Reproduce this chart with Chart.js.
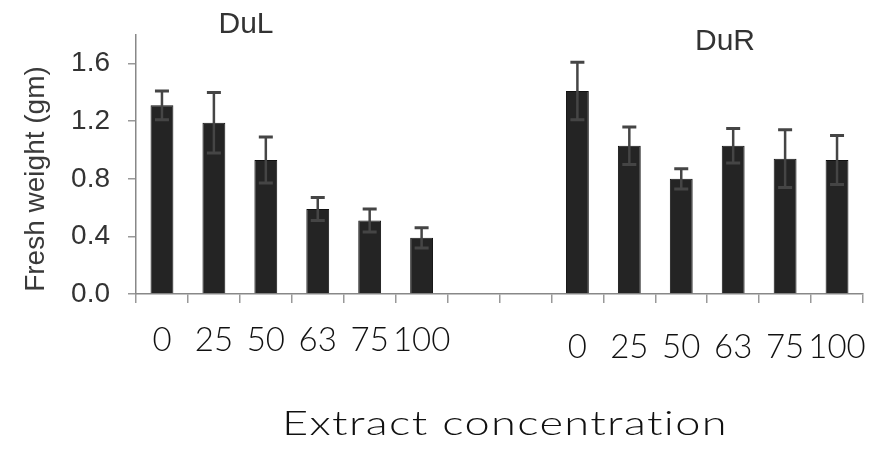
<!DOCTYPE html>
<html>
<head>
<meta charset="utf-8">
<script src="https://cdn.jsdelivr.net/npm/chart.js@4"></script>
<style>
    html, body { margin: 0; padding: 0; background: #fff; }
    #wrap { width: 871px; height: 449px; }
</style>
</head>
<body>
<div id="wrap"><canvas id="weightChart" width="871" height="449"></canvas></div>
<script>
// concentrations of extract (x tick labels), repeated for both groups
const concentrations = ['0', '25', '50', '63', '75', '100'];
const groupNames = ['DuL', 'DuR'];

// fresh weight (gm)
const dulMeans = [1.31, 1.19, 0.93, 0.59, 0.51, 0.39];
const dulErrors = [0.10, 0.21, 0.16, 0.08, 0.08, 0.07];
const durMeans = [1.41, 1.03, 0.80, 1.03, 0.94, 0.93];
const durErrors = [0.20, 0.13, 0.07, 0.12, 0.20, 0.17];

const yTicks = [0.0, 0.4, 0.8, 1.2, 1.6];

// two empty slots sit between the groups
const gap = ['', ''];
const labels = [...concentrations, ...gap, ...concentrations];
const means = [...dulMeans, null, null, ...durMeans];
const errors = [...dulErrors, null, null, ...durErrors];

const errorBars = {
    id: 'errorBars',
    afterDatasetsDraw(chart) {
        const ctx = chart.ctx;
        const y = chart.scales.y;
        const meta = chart.getDatasetMeta(0);
        ctx.save();
        ctx.strokeStyle = '#454545';
        meta.data.forEach((bar, i) => {
            if (means[i] == null) return;
            const top = y.getPixelForValue(means[i] + errors[i]);
            const bottom = y.getPixelForValue(means[i] - errors[i]);
            ctx.lineWidth = 2.5;
            ctx.beginPath();
            ctx.moveTo(bar.x, top);
            ctx.lineTo(bar.x, bottom);
            ctx.stroke();
            ctx.lineWidth = 3;
            ctx.beginPath();
            ctx.moveTo(bar.x - 7, top);
            ctx.lineTo(bar.x + 7, top);
            ctx.moveTo(bar.x - 7, bottom);
            ctx.lineTo(bar.x + 7, bottom);
            ctx.stroke();
        });
        ctx.restore();
    }
};

// stretch text to a given width, the original uses a wide font
const drawWide = (ctx, text, x, y, width) => {
    const w = ctx.measureText(text).width;
    ctx.save();
    ctx.translate(x, y);
    ctx.scale(width / w, 1);
    ctx.fillText(text, 0, 0);
    ctx.restore();
};

const textLayer = {
    id: 'textLayer',
    afterDraw(chart) {
        const ctx = chart.ctx;
        const x = chart.scales.x;
        ctx.save();
        ctx.textAlign = 'center';
        ctx.textBaseline = 'middle';

        // y title
        ctx.fillStyle = '#3a3a3a';
        ctx.font = '28px "Liberation Sans", Arial, sans-serif';
        ctx.save();
        ctx.translate(36, 179);
        ctx.rotate(-Math.PI / 2);
        ctx.fillText('Fresh weight (gm)', 0, 0);
        ctx.restore();

        // group names
        ctx.fillStyle = '#333';
        ctx.font = '30px "Liberation Sans", Arial, sans-serif';
        ctx.fillText(groupNames[0], 246, 25);
        ctx.fillText(groupNames[1], 725, 42);

        // concentration labels
        ctx.fillStyle = '#111';
        ctx.font = '300 33px Lato, "Open Sans", sans-serif';
        labels.forEach((lab, i) => {
            if (!lab) return;
            const yy = i < 6 ? 340 : 347;
            ctx.fillText(lab, x.getPixelForValue(i), yy);
        });

        // x title (small spacing keeps the "ti" pair apart)
        ctx.letterSpacing = '1px';
        ctx.font = '300 33px Lato, "Open Sans", sans-serif';
        drawWide(ctx, 'Extract concentration', 505, 424, 446);
        ctx.restore();
    }
};

new Chart(document.getElementById('weightChart'), {
    type: 'bar',
    data: {
        labels: labels,
        datasets: [{
            data: means,
            backgroundColor: '#242424',
            borderColor: '#111',
            borderWidth: 1,
            barPercentage: 0.44,
            categoryPercentage: 1.0
        }]
    },
    options: {
        responsive: false,
        animation: false,
        layout: { padding: { top: 31, right: 8, left: 0, bottom: 0 } },
        plugins: {
            legend: { display: false },
            tooltip: { enabled: false }
        },
        scales: {
            x: {
                offset: true,
                grid: {
                    offset: true,
                    drawOnChartArea: false,
                    drawTicks: true,
                    tickLength: 9,
                    color: '#999',
                    lineWidth: 1.5
                },
                border: { color: '#888', width: 1.5 },
                ticks: { display: false },
                afterFit: (scale) => { scale.height = 155; }
            },
            y: {
                min: 0,
                max: 1.8,
                afterBuildTicks: (scale) => {
                    scale.ticks = yTicks.map(v => ({ value: v }));
                },
                grid: {
                    drawOnChartArea: false,
                    drawTicks: true,
                    tickLength: 8,
                    color: '#999',
                    lineWidth: 1.5
                },
                border: { color: '#888', width: 1.5 },
                ticks: {
                    padding: 18,
                    color: '#333',
                    font: { family: '"Liberation Sans", Arial, sans-serif', size: 28 },
                    callback: (v) => Number(v).toFixed(1)
                },
                afterFit: (scale) => { scale.width = 136; }
            }
        }
    },
    plugins: [errorBars, textLayer]
});
</script>
</body>
</html>
